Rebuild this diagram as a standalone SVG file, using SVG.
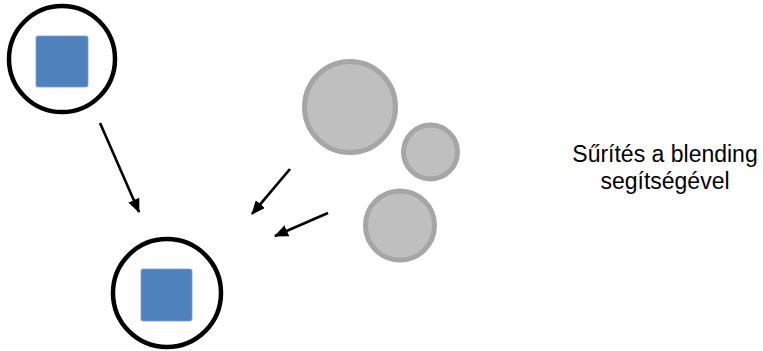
<svg xmlns="http://www.w3.org/2000/svg" width="763" height="351" viewBox="0 0 763 351">
<defs>
<marker id="ah" viewBox="0 0 14 12" refX="13" refY="6" markerWidth="14" markerHeight="12" markerUnits="userSpaceOnUse" orient="auto">
<path d="M0,0 L14,6 L0,12 Z" fill="#000"/>
</marker>
</defs>
<style>
.ring{fill:#fff;stroke:#000;stroke-width:4.5}
.sq{fill:#4f81bd;stroke:#7a9fd0;stroke-width:0.8}
.gc{fill:#bfbfbf;stroke:#a6a6a6;stroke-width:5}
.conn line{stroke:#000;stroke-width:2.6;marker-end:url(#ah)}
.lbl{font-family:"Liberation Sans",Arial,sans-serif;font-size:23px;fill:#000;text-anchor:middle}
</style>
<rect width="763" height="351" fill="#fff"/>
<g id="node-top">
<circle class="ring" cx="62" cy="59" r="53"/>
<rect class="sq" x="36" y="36" width="52" height="51" rx="2"/>
</g>
<g id="node-bottom">
<circle class="ring" cx="167" cy="293" r="54"/>
<rect class="sq" x="141" y="269" width="51" height="52" rx="2"/>
</g>
<g id="gray-big"><circle class="gc" cx="350" cy="107" r="45.5"/></g>
<g id="gray-small"><circle class="gc" cx="430.5" cy="152" r="27"/></g>
<g id="gray-medium"><circle class="gc" cx="400" cy="225.5" r="34.5"/></g>
<g class="conn" id="connectors">
<line x1="100" y1="123" x2="139" y2="212"/>
<line x1="290" y1="169" x2="252" y2="214"/>
<line x1="328" y1="213" x2="275" y2="236"/>
</g>
<g id="label">
<text class="lbl" x="665" y="162">Sűrítés a blending</text>
<text class="lbl" x="665" y="189">segítségével</text>
</g>
</svg>
